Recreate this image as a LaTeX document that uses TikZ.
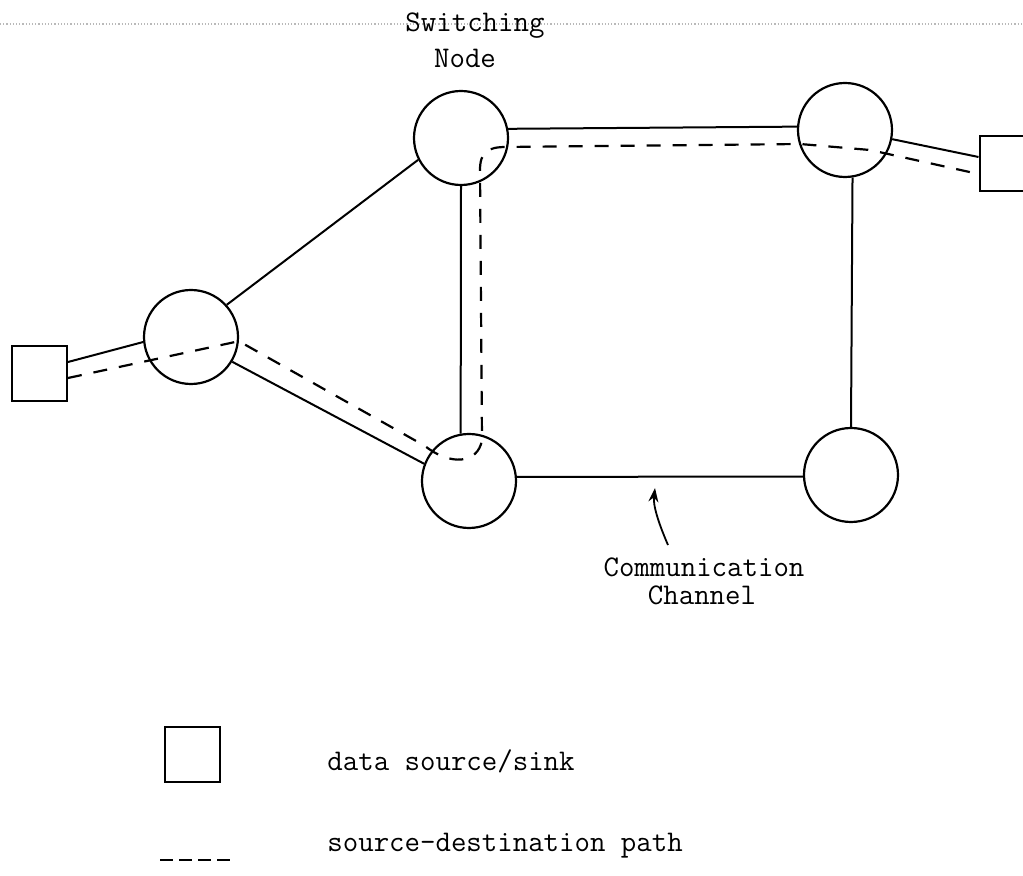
\documentclass[tikz,border=0pt]{standalone}
\usetikzlibrary{arrows.meta,calc}
\begin{document}
\begin{tikzpicture}[x=0.5pt,y=-0.5pt,
  sw/.style={circle,draw,line width=1.1pt,minimum size=47pt,inner sep=0pt},
  src/.style={rectangle,draw,line width=1pt,minimum size=27.5pt,inner sep=0pt},
  chan/.style={line width=1pt},
  route/.style={line width=1.1pt,dash pattern=on 7pt off 6pt},
  lbl/.style={font=\fontsize{15}{18}\selectfont\ttfamily,inner sep=0pt}]
\useasboundingbox (0,0) rectangle (1023,876);
\clip (0,0) rectangle (1023,876);
\draw[gray!55,line width=0.6pt,densely dotted] (0,24) -- (1023,24);
% switching nodes
\node[sw] (A) at (191,337) {};
\node[sw] (T) at (461,138) {};
\node[sw] (TR) at (845,130) {};
\node[sw] (B) at (469,481) {};
\node[sw] (BR) at (851,475) {};
% sources / sinks
\node[src] (L) at (39.5,374) {};
\node[src] (R) at (1007,164) {};
% channels
\draw[chan] ($(L.east)+(0,-12)$) -- (A.186);
\draw[chan] (A.42) -- (T.207);
\draw[chan] (A.-31) -- (B.159);
\draw[chan] (T.11) -- (TR.176);
\draw[chan] (TR.-11) -- ($(R.west)+(0,-7)$);
\draw[chan] (T.south) -- (B.100);
\draw[chan] (TR.-81) -- (BR.north);
\draw[chan] (B.5) -- (BR.182);
% source-destination path
\coordinate (d1) at (425,446);
\coordinate (d2) at (482,440);
\coordinate (d3) at (480,170);
\coordinate (d4) at (506,147);
\coordinate (d5) at (800,144);
\coordinate (d6) at (870,150);
\draw[route] ($(L.east)+(0,4)$) -- (A.-5) -- (d1)
  .. controls (450,466) and (478,464) .. (d2) -- (d3)
  .. controls (480,152) and (488,147) .. (d4) -- (d5) -- (d6)
  -- ($(R.west)+(0,10)$);
% labels
\node[lbl,anchor=base] (sw) at (475,32) {Switching};
\node[lbl,anchor=base] (nd) at (465,68) {Node};
\node[lbl,anchor=base] (cm) at (704,577) {Communication};
\node[lbl,anchor=base] (ch) at (702,605) {Channel};
\coordinate (at) at (668,545);
\coordinate (ah) at (655,488);
\draw[line width=0.9pt,-{Stealth[length=7pt,width=5pt]}] (at) .. controls (658,522) and (653,505) .. (ah);
% legend
\node[src] (Lg) at (192.5,754.5) {};
\node[lbl,anchor=base west] (lg1) at (327,770) {data source/sink};
\coordinate (ls) at (160,860);
\coordinate (le) at (230,860);
\draw[line width=1.1pt,dash pattern=on 6.5pt off 3pt] (ls) -- (le);
\node[lbl,anchor=base west] (lg2) at (327,851) {source-destination path};
\end{tikzpicture}
\end{document}
